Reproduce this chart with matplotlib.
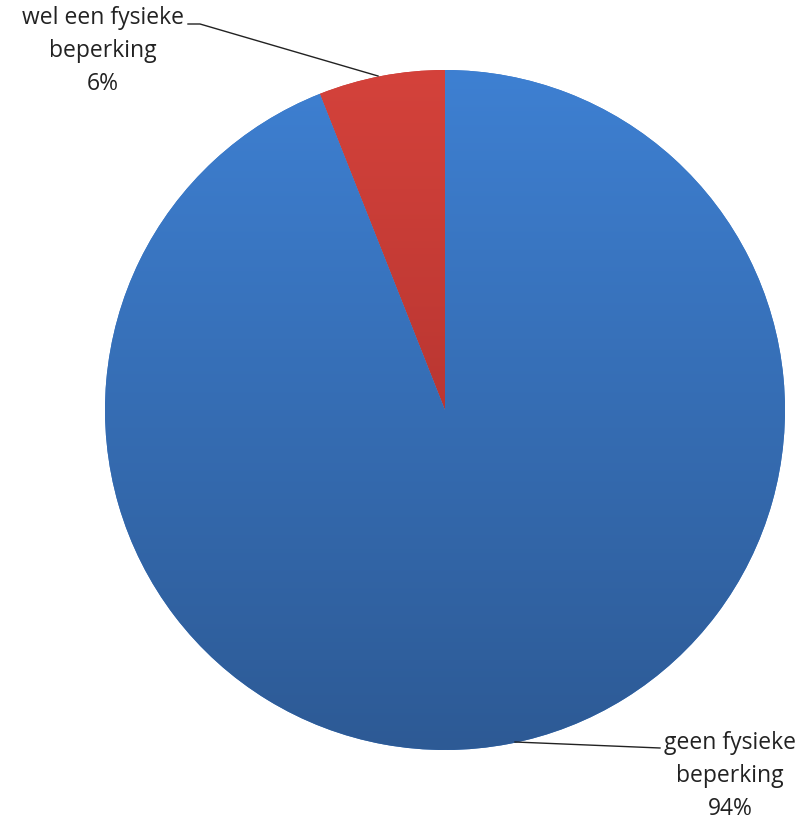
import matplotlib
matplotlib.use("Agg")
import matplotlib.pyplot as plt
import numpy as np
from matplotlib.colors import LinearSegmentedColormap

categories = ["wel een fysieke\nbeperking", "geen fysieke\nbeperking"]
values = [6, 94]
pct_labels = ["6%", "94%"]

plt.rcParams['font.family'] = ['Open Sans', 'DejaVu Sans']

W, H = 804, 819
fig = plt.figure(figsize=(W/100, H/100), dpi=100)
ax = fig.add_axes([0, 0, 1, 1])
R = 340.0
cx, cy = 445, 410

wedges, _ = ax.pie(values, startangle=90, counterclock=True, radius=1,
                   colors=["#C93A35", "#3A77C4"], wedgeprops=dict(linewidth=0))
ax.set_xlim(-cx/R, (W-cx)/R)
ax.set_ylim(-(H-cy)/R, cy/R)
ax.set_aspect('auto')
ax.axis('off')

grads = [("#D4423B", "#A02B28"), ("#3E80D2", "#2D5A95")]
for w, (c1, c2) in zip(wedges, grads):
    cmap = LinearSegmentedColormap.from_list("g", [c1, c2])
    g = np.linspace(0, 1, 256).reshape(-1, 1)
    im = ax.imshow(g, cmap=cmap, extent=[-1, 1, -1, 1], origin='upper',
                   aspect='auto', zorder=2, interpolation='bilinear')
    im.set_clip_path(w)

def px(x, y):
    return ((x - cx)/R, (cy - y)/R)

# labels
t1 = px(103, 51)
ax.text(t1[0], t1[1], categories[0] + "\n" + pct_labels[0], ha='center', va='center',
        fontsize=16.5, color='#222222', linespacing=1.48, zorder=5)
t2 = px(730, 776)
ax.text(t2[0], t2[1], categories[1] + "\n" + pct_labels[1], ha='center', va='center',
        fontsize=16.5, color='#222222', linespacing=1.48, zorder=5)

# leader lines
l1 = [px(188, 24), px(200, 24), px(378, 76)]
ax.plot([p[0] for p in l1], [p[1] for p in l1], color='#222222', lw=1, zorder=6)
l2 = [px(515, 742), px(660, 748)]
ax.plot([p[0] for p in l2], [p[1] for p in l2], color='#222222', lw=1, zorder=6)

fig.savefig("out.png", dpi=100, facecolor='white')
